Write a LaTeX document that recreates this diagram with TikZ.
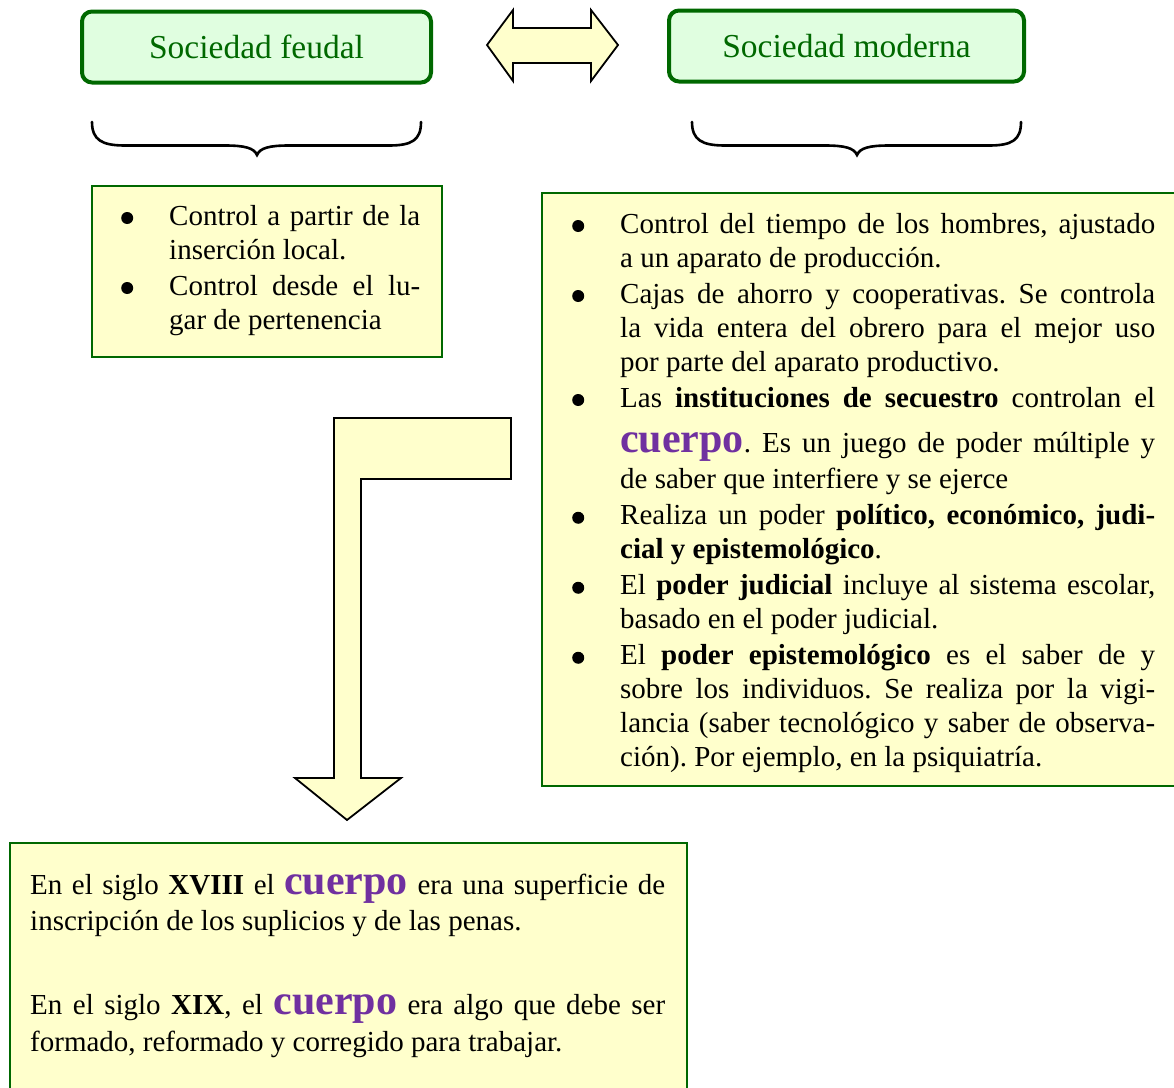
\documentclass[tikz,border=0pt]{standalone}
\usepackage{fontspec}
\setmainfont{Liberation Serif}
\definecolor{dkgreen}{RGB}{0,104,0}
\definecolor{mint}{RGB}{224,254,224}
\definecolor{paleyellow}{RGB}{255,255,204}
\definecolor{cuerpoc}{RGB}{112,48,160}
\newcommand\cuerpoword{{\fontsize{42pt}{42pt}\selectfont\bfseries\color{cuerpoc}cuerpo}}
\newcommand\bulletdot{\raisebox{1pt}{\tikz\fill[black] (0pt,0pt) circle (6pt);}}
\newcommand\bitem{\par\noindent\llap{\bulletdot\hspace{36pt}}}
\newcommand\bodyfont{\fontsize{29pt}{34pt}\selectfont\frenchspacing\parskip=2pt\parindent=0pt\hyphenpenalty=10000\tolerance=10000}
\begin{document}
\begin{tikzpicture}[x=1pt,y=-1pt,
  titlebox/.style={draw=dkgreen,line width=4pt,fill=mint,rounded corners=10pt,minimum width=#1,minimum height=71pt,inner sep=0pt,font=\fontsize{33.5pt}{36pt}\selectfont,text=dkgreen},
  listbox/.style={draw=dkgreen,line width=2.2pt,fill=paleyellow,inner sep=0pt,anchor=north west},
  shapeline/.style={draw=black,line width=1.8pt,fill=paleyellow,line join=miter},
  bracepath/.style={draw=black,line width=2.6pt,line cap=round},
  txt/.style={inner sep=0pt,anchor=base west}]
\useasboundingbox (0,0) rectangle (1174,1087);
\clip (0,0) rectangle (1174,1087);

% title boxes
\node[titlebox=349pt] (feudal) at (256.5,47) {Sociedad feudal};
\node[titlebox=355pt] (moderna) at (846.5,46) {Sociedad moderna};

% double arrow
\draw[shapeline] (487,45) -- (513,10) -- (513,28) -- (591,28) -- (591,10) -- (618,45)
  -- (591,81) -- (591,63) -- (513,63) -- (513,81) -- cycle;

% braces
\draw[bracepath] (92,122) .. controls (92,140) and (102,145.5) .. (125,145.5) -- (225,145.5)
  .. controls (245,145.5) and (254,148) .. (257,155)
  .. controls (260,148) and (269,145.5) .. (289,145.5) -- (389,145.5)
  .. controls (412,145.5) and (421,140) .. (421,122);
\draw[bracepath] (692,122) .. controls (692,140) and (702,145.5) .. (725,145.5) -- (825,145.5)
  .. controls (845,145.5) and (854,148) .. (857,155)
  .. controls (860,148) and (869,145.5) .. (889,145.5) -- (989,145.5)
  .. controls (1012,145.5) and (1021,140) .. (1021,122);

% left list box
\node[listbox,minimum width=350pt,minimum height=171pt] (feudalbox) at (91,185) {};
\node[txt] (feudaltext) at (169,225) {\parbox[t]{251pt}{\bodyfont
\bitem Control a partir de la \linebreak inserción local.
\bitem Control desde el lu-\linebreak gar de pertenencia}};

% right list box
\node[listbox,minimum width=640pt,minimum height=593pt] (modernabox) at (541,192) {};
\node[txt] (modernatext) at (620,233) {\parbox[t]{535pt}{\bodyfont
\bitem Control del tiempo de los hombres, ajustado \linebreak a un aparato de producción.
\bitem Cajas de ahorro y cooperativas. Se controla \linebreak la vida entera del obrero para el mejor uso \linebreak por parte del aparato productivo.
\bitem Las \textbf{instituciones de secuestro} controlan el \linebreak \rule[-15pt]{0pt}{59pt}\cuerpoword. Es un juego de poder múltiple y \linebreak de saber que interfiere y se ejerce
\bitem Realiza un poder \textbf{político, económico, judi-}\linebreak \textbf{cial y epistemológico}.
\bitem El \textbf{poder judicial} incluye al sistema escolar, \linebreak basado en el poder judicial.
\bitem El \textbf{poder epistemológico} es el saber de y \linebreak sobre los individuos. Se realiza por la vigi-\linebreak lancia (saber tecnológico y saber de observa-\linebreak ción). Por ejemplo, en la psiquiatría.}};

% bent arrow
\draw[shapeline] (334,418) -- (511,418) -- (511,479) -- (361,479) -- (361,778) -- (401,778)
  -- (347,820) -- (295,778) -- (334,778) -- cycle;

% bottom box
\node[listbox,minimum width=677pt,minimum height=260pt] (cuerpobox) at (9,842) {};
\node[txt] (cuerpotext) at (30,894) {\parbox[t]{635pt}{\fontsize{29pt}{36.5pt}\selectfont\frenchspacing\parindent=0pt\tolerance=10000
En el siglo \textbf{XVIII} el \cuerpoword\ era una superficie de\linebreak
inscripción de los suplicios y de las penas.\\[47.5pt]
En el siglo \textbf{XIX}, el \cuerpoword\ era algo que debe ser\linebreak
formado, reformado y corregido para trabajar.}};
\end{tikzpicture}
\end{document}
